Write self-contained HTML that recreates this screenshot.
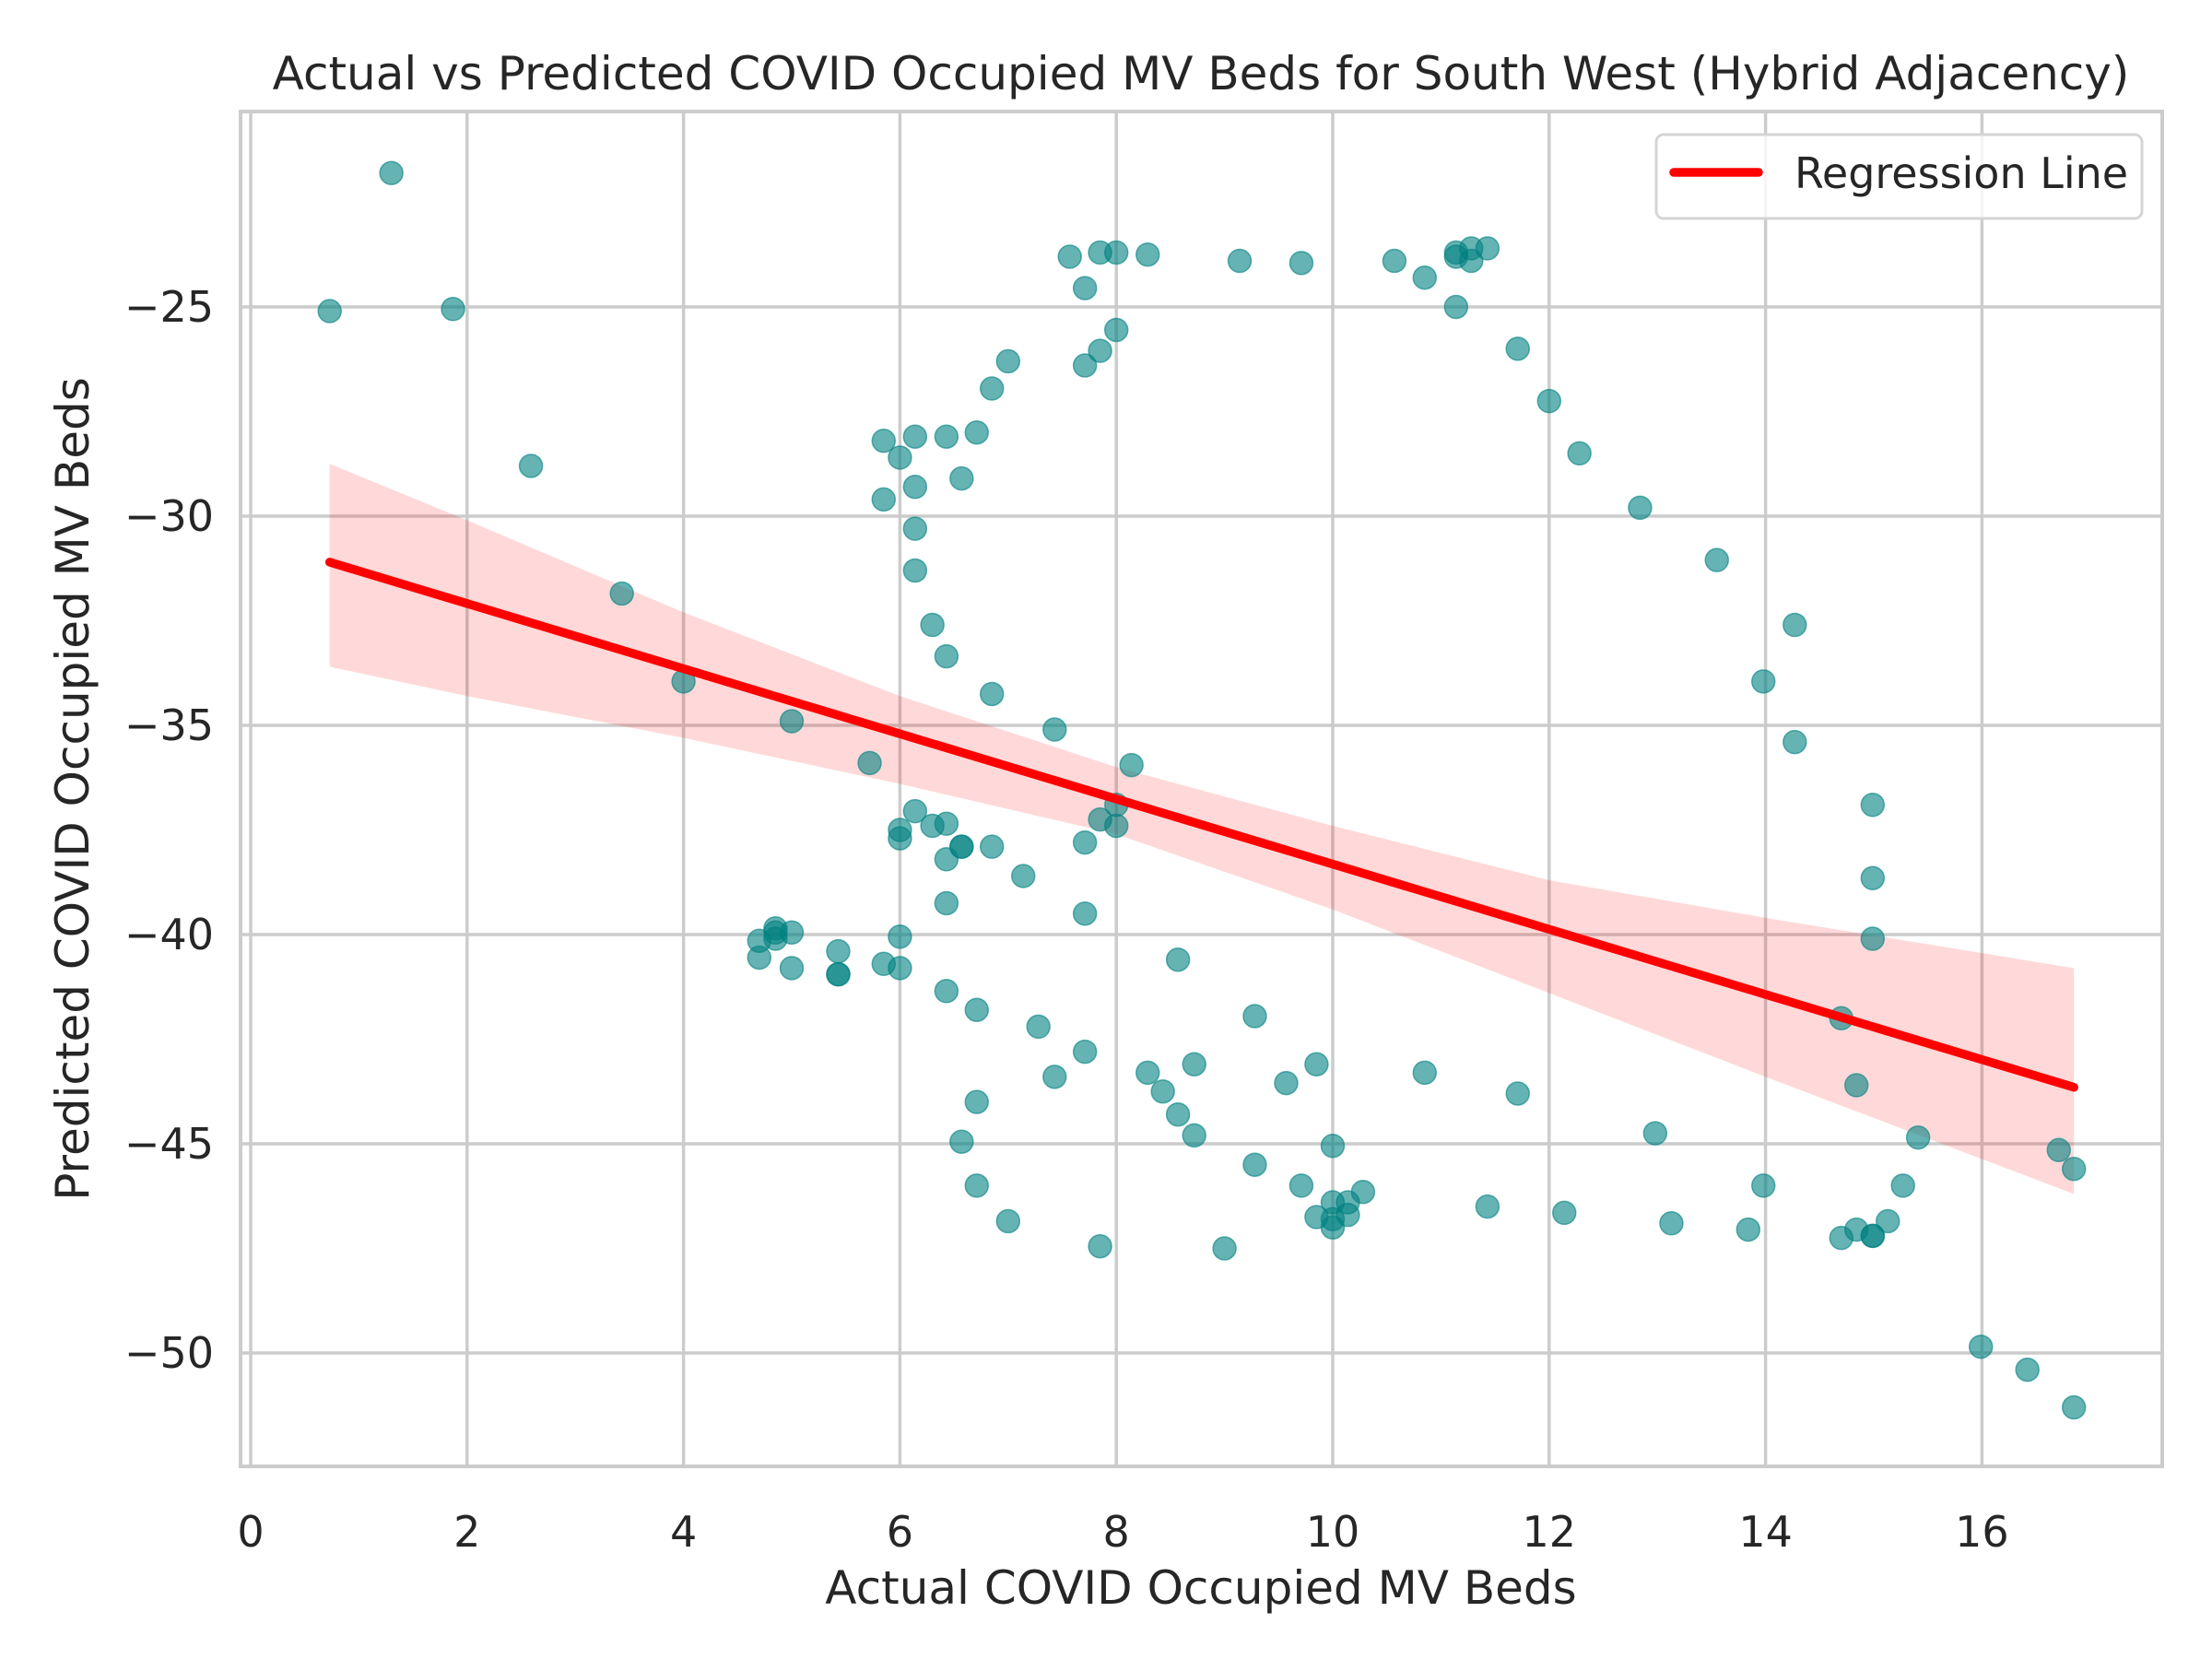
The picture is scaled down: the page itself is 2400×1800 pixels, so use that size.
<!DOCTYPE html>
<html><head><meta charset="utf-8"><style>
html,body{margin:0;padding:0;background:#fff;}
svg{display:block;font-family:"DejaVu Sans","Liberation Sans",sans-serif;}
</style></head><body>
<svg id="chart" width="2400" height="1800" viewBox="0 0 2400 1800" xmlns="http://www.w3.org/2000/svg">
<rect width="2400" height="1800" fill="#fff"/>
<g id="grid"></g>
<g id="band"></g>
<g id="points"></g>
<g id="line"></g>
<rect x="261" y="121" width="2085" height="1470" fill="none" stroke="#cccccc" stroke-width="4"/>
<g id="ticks" fill="#262626" font-size="46"></g>
<text x="1303" y="97" text-anchor="middle" font-size="50" fill="#262626">Actual vs Predicted COVID Occupied MV Beds for South West (Hybrid Adjacency)</text>
<text x="1303" y="1740" text-anchor="middle" font-size="50" fill="#262626">Actual COVID Occupied MV Beds</text>
<text transform="translate(96,856) rotate(-90)" text-anchor="middle" font-size="50" fill="#262626">Predicted COVID Occupied MV Beds</text>
<g>
<rect x="1797" y="146" width="527" height="91" rx="8" fill="#fff" fill-opacity="0.8" stroke="#d5d5d5" stroke-width="3"/>
<line x1="1816" y1="187" x2="1908" y2="187" stroke="#ff0000" stroke-width="9.5" stroke-linecap="round"/>
<text x="1947" y="204" font-size="46" fill="#262626">Regression Line</text>
</g>
</svg>
<script>
const xs=[0.73,1.3,1.87,2.59,3.43,4.0,5.0,5.72,4.7,4.7,4.85,4.85,4.85,5.0,5.0,5.43,5.43,5.43,5.85,6.0,6.0,6.0,6.0,6.14,6.3,6.43,6.43,6.57,6.57,6.85,6.43,7.14,7.71,7.71,7.85,8.0,8.0,8.14,7.43,6.85,6.43,6.3,6.14,6.14,6.14,5.85,6.0,5.85,6.14,6.43,6.71,6.57,6.85,7.0,7.71,7.85,8.0,7.71,7.57,7.85,8.0,8.29,9.14,9.71,10.57,10.85,11.14,11.14,11.28,11.28,11.43,11.14,11.71,12.0,12.28,12.84,13.55,14.27,13.98,14.27,14.99,14.99,14.99,14.7,14.84,15.41,15.27,15.13,14.84,14.7,14.99,14.99,13.98,13.84,13.13,12.98,12.14,11.43,11.71,10.85,15.99,16.42,16.85,16.71,16.85,10.28,10.14,10.14,10.0,10.0,10.0,9.85,9.71,10.0,9.85,9.57,9.28,9.28,9.0,8.72,8.57,8.72,8.43,8.29,8.57,7.85,7.71,7.43,7.28,7.0,6.71,6.71,6.57,6.71,6.43];
const ys=[-25.1,-21.8,-25.05,-28.8,-31.85,-33.95,-34.9,-35.9,-40.15,-40.55,-39.85,-39.95,-40.1,-39.95,-40.8,-40.4,-40.95,-40.95,-40.7,-40.05,-40.8,-37.5,-37.7,-37.05,-37.4,-37.35,-38.2,-37.9,-37.9,-37.9,-39.25,-38.6,-39.5,-37.8,-37.25,-36.9,-37.4,-35.95,-35.1,-34.25,-33.35,-32.6,-31.3,-30.3,-29.3,-29.6,-28.6,-28.2,-28.1,-28.1,-28.0,-29.1,-26.95,-26.3,-26.4,-26.05,-25.55,-24.55,-23.8,-23.7,-23.7,-23.75,-23.9,-23.95,-23.9,-24.3,-23.7,-23.8,-23.9,-23.6,-23.6,-25.0,-26.0,-27.25,-28.5,-29.8,-31.05,-32.6,-33.95,-35.4,-36.9,-38.65,-40.1,-42.0,-43.6,-44.85,-46.0,-46.85,-47.05,-47.25,-47.2,-47.2,-46.0,-47.05,-46.9,-44.75,-46.65,-46.5,-43.8,-43.3,-49.85,-50.4,-51.3,-45.15,-45.6,-46.15,-46.4,-46.7,-46.4,-46.8,-47.0,-46.75,-46.0,-45.05,-43.1,-43.55,-41.95,-45.5,-47.5,-44.8,-44.3,-43.1,-43.75,-43.3,-40.6,-47.45,-42.8,-43.4,-42.2,-46.85,-46.0,-44.0,-44.95,-41.8,-41.35];
const lineX=[0.73,16.85];
const lineY=[-31.1,-43.65];
const bandX=[0.73,2,4,6,8,10,12,14,16.85];
const bandUpper=[-28.75,-30.1,-32.3,-34.3,-36.0,-37.4,-38.7,-39.6,-40.8];
const bandLower=[-33.6,-34.3,-35.3,-36.4,-37.6,-39.4,-41.4,-43.4,-46.2];
const xTicks=[0,2,4,6,8,10,12,14,16];
const yTicks=[-25,-30,-35,-40,-45,-50];
const xTickLabels=["0","2","4","6","8","10","12","14","16"];
const yTickLabels=["\u221225","\u221230","\u221235","\u221240","\u221245","\u221250"];

const NS="http://www.w3.org/2000/svg";
function X(v){return 272+v*117.4;}
function Y(v){return 333+(-25-v)*45.4;}
function mk(tag,attrs,parent){const e=document.createElementNS(NS,tag);for(const k in attrs)e.setAttribute(k,attrs[k]);parent.appendChild(e);return e;}
const grid=document.getElementById('grid'),ticks=document.getElementById('ticks');
xTicks.forEach((t,i)=>{
  const g=mk('line',{x1:X(t),x2:X(t),y1:121,y2:1591,stroke:'#cccccc','stroke-width':3.5},grid);
  
  
  const tx=mk('text',{x:X(t),y:1678,'text-anchor':'middle'},ticks);
  tx.textContent=xTickLabels[i];
  
  
});
yTicks.forEach((t,i)=>{
  const g=mk('line',{x1:261,x2:2346,y1:Y(t),y2:Y(t),stroke:'#cccccc','stroke-width':3.5},grid);
  
  
  const tx=mk('text',{x:232,y:Y(t)+16,'text-anchor':'end'},ticks);
  tx.textContent=yTickLabels[i];
  
  
});
let d='';
bandX.forEach((v,i)=>{d+=(i?'L':'M')+X(v)+','+Y(bandUpper[i]);});
for(let i=bandX.length-1;i>=0;i--){d+='L'+X(bandX[i])+','+Y(bandLower[i]);}
const band=mk('path',{d:d+'Z',fill:'#ff0000','fill-opacity':0.15,stroke:'none'},document.getElementById('band'));


const pts=document.getElementById('points');
xs.forEach((v,i)=>{
  const c=mk('circle',{cx:X(v),cy:Y(ys[i]),r:12.5,fill:'#008080','fill-opacity':0.6,stroke:'#008080','stroke-opacity':0.6,'stroke-width':1.5},pts);
  
  
});
const ln=mk('line',{x1:X(lineX[0]),y1:Y(lineY[0]),x2:X(lineX[1]),y2:Y(lineY[1]),stroke:'#ff0000','stroke-width':9.5,'stroke-linecap':'round'},document.getElementById('line'));


</script>
</body></html>
